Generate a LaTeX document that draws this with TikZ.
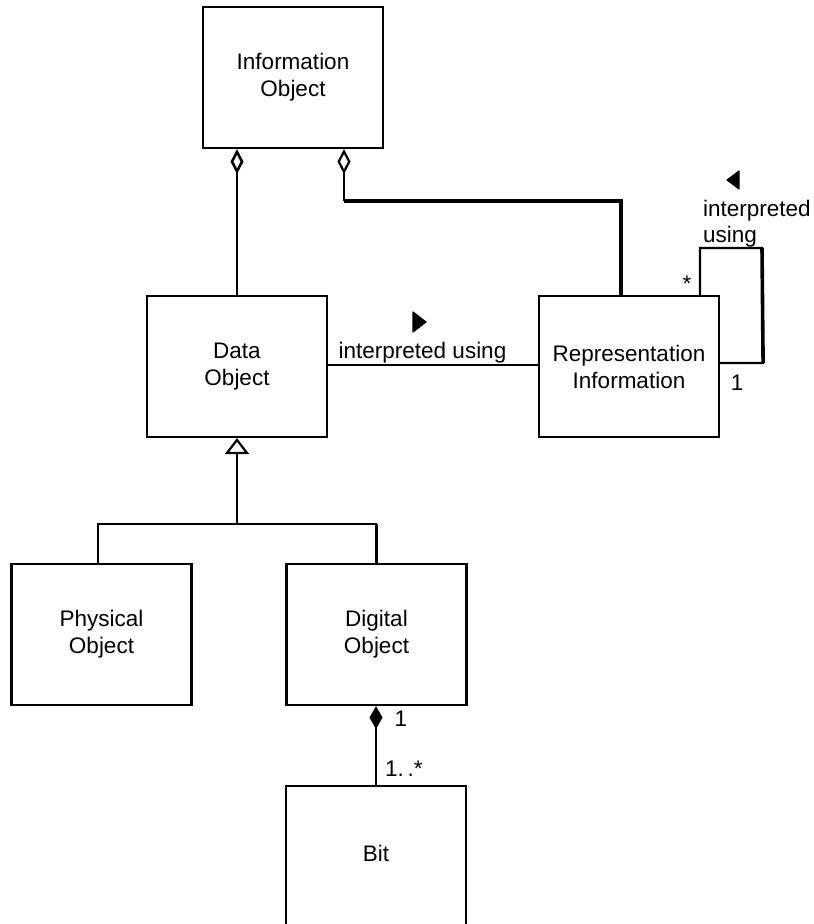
\documentclass[tikz,border=0pt]{standalone}
\usepackage{fontspec}
\setmainfont{Liberation Sans}
\usetikzlibrary{arrows.meta,calc}
\tikzset{
  box/.style={draw, line width=2.2pt, minimum width=180pt, minimum height=141pt, inner sep=0pt, align=center, font=\fontsize{22.5}{27}\selectfont},
  conn/.style={line width=2.2pt},
  dbl/.style={line width=3.6pt},
  lbl/.style={inner sep=0pt, font=\fontsize{22.5}{26}\selectfont},
  dirmark/.style={fill=black, line join=round, line width=1.2pt, draw=black}
}
\begin{document}
\begin{tikzpicture}[x=1pt,y=1pt]
\useasboundingbox (0,0) rectangle (814,-924);
% boxes
\node[box] (info) at (293,-77.5) {Information\\Object};
\node[box] (data) at (237,-366.5) {Data\\Object};
\node[box] (rep) at (629,-366.5) {Representation\\Information};
\node[box] (phys) at (101.5,-634.5) {Physical\\Object};
\node[box] (digi) at (376.5,-634.5) {Digital\\Object};
\node[box] (bit) at (376,-856.5) {\raisebox{7pt}{Bit}};
% aggregation Data -> Information
\draw[conn, -{Diamond[open, length=25pt, width=13pt, line width=2.6pt]}] (data.north) -- (data.north |- info.south);
% aggregation Representation -> Information
\coordinate (aggR) at ($(info.south)+(51,-52)$);
\coordinate (repTop) at ($(rep.north)+(-8,0)$);
\draw[dbl] (repTop) |- (aggR);
\draw[conn, -{Diamond[open, length=25pt, width=13pt, line width=2.2pt]}] (aggR) -- (aggR |- info.south);
% association Data -- Representation
\draw[conn] ($(data.east)+(0,1.5)$) -- ($(rep.west)+(0,1.5)$) node[lbl, pos=0.45, anchor=base, yshift=7pt] (lblA) {interpreted using};
\fill[dirmark] (413,-312) -- (426,-322) -- (413,-332) -- cycle;
% self loop on Representation
\coordinate (l1) at ($(rep.north)+(71,0)$);
\coordinate (l2) at ($(l1)+(0,47)$);
\coordinate (l3) at ($(l2)+(62,0)$);
\coordinate (l4) at ($(rep.east)+(43,3.5)$);
\coordinate (l5) at ($(rep.east)+(0,3.5)$);
\draw[conn] (l1) -- (l2) -- (l3) -- (l4) -- (l5);
\draw[dbl] (l3) -- (l4);
\node[lbl, anchor=base west, align=left] (lblB) at (703,-242) {interpreted\\using};
\fill[dirmark] (739,-171) -- (727,-180) -- (739,-189) -- cycle;
\node[lbl, anchor=base] (star) at (687,-291) {*};
\node[lbl] (one1) at (737,-383) {1};
% generalization
\coordinate (gj) at ($(data.south)+(0,-86)$);
\coordinate (physTop) at ($(phys.north)+(-3.5,0)$);
\draw[conn] (physTop) |- (digi.north |- gj);
\draw[dbl] (digi.north |- gj) -- (digi.north);
\draw[conn, -{Triangle[open, length=16pt, width=24pt, line width=2.2pt]}] (gj) -- (data.south);
% composition
\draw[conn, -{Diamond[length=23pt, width=13pt]}] (bit.north) -- (bit.north |- digi.south);
\node[lbl] (one2) at (401,-719) {1};
\node[lbl, anchor=base west] (many) at (385,-776) {1.\,.*};
\end{tikzpicture}
\end{document}
